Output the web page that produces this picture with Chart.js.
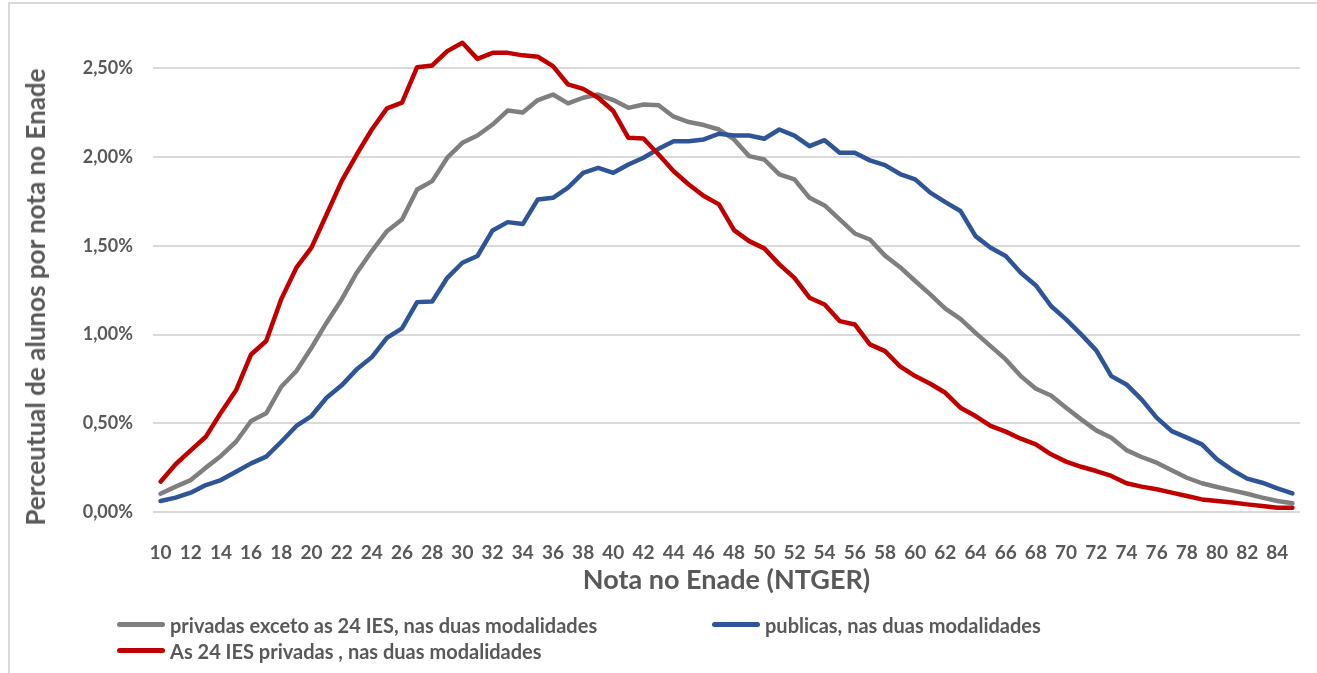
<!DOCTYPE html>
<html>
<head>
  <meta charset="utf-8" />
  <title>Nota no Enade</title>
  <script src="https://cdn.jsdelivr.net/npm/chart.js"></script>
  <style>
    body { margin: 0; background: #fff; font-family: Lato, sans-serif; }
    #wrap { position: relative; width: 1317px; height: 673px; overflow: hidden; }
    #frame { position: absolute; left: 8px; top: 2px; width: 1400px; height: 800px; border: 2px solid #d9d9d9; }
    #chart { position: absolute; left: 0; top: 0; }
    #ytitle { position: absolute; left: 35px; top: 297px; transform: translate(-50%, -50%) rotate(-90deg);
      white-space: nowrap; font-weight: bold; font-size: 26px; color: #595959; }
    #legend { position: absolute; left: 117px; top: 614px; display: grid; grid-template-columns: 595px 400px; row-gap: 5px; }
    .item { display: flex; align-items: center; font-weight: bold; font-size: 20px; color: #595959; height: 21px; white-space: nowrap; }
    .swatch { display: inline-block; width: 48px; height: 5px; border-radius: 3px; margin-right: 5px; }
  </style>
</head>

<body>
  <div id="wrap">
    <div id="frame"></div>
    <canvas id="chart" width="1317" height="673"></canvas>
    <div id="ytitle">Perceutual de alunos por nota no Enade</div>
    <div id="legend"></div>
  </div>
</body>

<script>
  // notas 10..85
  const notas = [];
  for (let n = 10; n <= 85; n++) notas.push(String(n));

  const privadasExceto = [
    0.103, 0.143, 0.180, 0.250, 0.316, 0.396, 0.513, 0.556, 0.706, 0.795,
    0.926, 1.067, 1.198, 1.349, 1.471, 1.583, 1.649, 1.818, 1.865, 1.997,
    2.081, 2.122, 2.184, 2.263, 2.252, 2.322, 2.353, 2.303, 2.335, 2.353,
    2.322, 2.278, 2.297, 2.293, 2.228, 2.198, 2.181, 2.156, 2.100, 2.006,
    1.987, 1.903, 1.875, 1.771, 1.728, 1.649, 1.570, 1.536, 1.445, 1.380,
    1.302, 1.227, 1.146, 1.089, 1.010, 0.935, 0.860, 0.766, 0.695, 0.657,
    0.588, 0.522, 0.460, 0.419, 0.349, 0.310, 0.278, 0.235, 0.193, 0.162,
    0.141, 0.122, 0.103, 0.081, 0.062, 0.049
  ];

  const publicas = [
    0.062, 0.081, 0.109, 0.152, 0.180, 0.227, 0.274, 0.312, 0.396, 0.485,
    0.541, 0.644, 0.714, 0.804, 0.873, 0.982, 1.035, 1.183, 1.187, 1.320,
    1.405, 1.443, 1.587, 1.634, 1.623, 1.762, 1.771, 1.828, 1.912, 1.940,
    1.912, 1.959, 1.997, 2.047, 2.090, 2.090, 2.100, 2.132, 2.122, 2.122,
    2.104, 2.156, 2.122, 2.062, 2.096, 2.025, 2.025, 1.982, 1.955, 1.905,
    1.875, 1.800, 1.747, 1.697, 1.555, 1.490, 1.443, 1.349, 1.277, 1.161,
    1.086, 1.001, 0.911, 0.766, 0.719, 0.635, 0.532, 0.456, 0.419, 0.381,
    0.297, 0.237, 0.188, 0.165, 0.133, 0.105
  ];

  const ies24 = [
    0.171, 0.269, 0.347, 0.424, 0.560, 0.686, 0.888, 0.964, 1.200, 1.377,
    1.490, 1.677, 1.865, 2.015, 2.156, 2.275, 2.307, 2.507, 2.517, 2.598,
    2.645, 2.554, 2.588, 2.588, 2.574, 2.566, 2.513, 2.410, 2.385, 2.335,
    2.260, 2.109, 2.105, 2.015, 1.921, 1.846, 1.781, 1.734, 1.589, 1.527,
    1.486, 1.396, 1.320, 1.208, 1.170, 1.076, 1.057, 0.945, 0.907, 0.821,
    0.766, 0.723, 0.672, 0.588, 0.541, 0.485, 0.453, 0.413, 0.381, 0.325,
    0.284, 0.255, 0.231, 0.203, 0.162, 0.143, 0.128, 0.109, 0.090, 0.071,
    0.062, 0.053, 0.043, 0.034, 0.024, 0.024
  ];

  const series = [
    { label: "privadas exceto as 24 IES, nas duas modalidades", data: privadasExceto, color: "#7f7f7f", order: 2 },
    { label: "publicas, nas duas modalidades", data: publicas, color: "#2f5597", order: 1 },
    { label: "As 24 IES privadas , nas duas modalidades", data: ies24, color: "#c00000", order: 0 },
  ];

  const textColor = "#595959";

  // legenda em html, duas colunas como no Excel
  const legend = document.getElementById("legend");
  series.forEach((s) => {
    const item = document.createElement("div");
    item.className = "item";
    item.innerHTML = '<span class="swatch" style="background:' + s.color + '"></span>' + s.label;
    legend.appendChild(item);
  });

  new Chart(document.getElementById("chart"), {
    type: "line",
    data: {
      labels: notas,
      datasets: series.map((s) => ({
        label: s.label,
        data: s.data,
        borderColor: s.color,
        backgroundColor: s.color,
        borderWidth: 4.5,
        pointRadius: 0,
        tension: 0,
        borderJoinStyle: "round",
        borderCapStyle: "round",
        order: s.order,
      })),
    },
    options: {
      responsive: false,
      animation: false,
      layout: { padding: { left: 0, right: 17, top: 33, bottom: 76 } },
      plugins: { legend: { display: false }, tooltip: { enabled: false } },
      scales: {
        x: {
          offset: true,
          grid: { display: false },
          border: { display: false },
          ticks: {
            autoSkip: false,
            maxRotation: 0,
            padding: 21,
            color: textColor,
            font: { family: "Lato", size: 19, weight: "bold" },
            callback: (v, i) => (i % 2 === 0 ? notas[i] : ""),
          },
          title: {
            display: true,
            text: "Nota no Enade (NTGER)",
            color: textColor,
            font: { family: "Lato", size: 27, weight: "bold" },
            padding: { top: 0, bottom: 1 },
          },
          afterFit: (scale) => { scale.height = 85; },
        },
        y: {
          min: 0,
          max: 2.7,
          grid: { color: "#d9d9d9", lineWidth: 2, drawTicks: false },
          border: { display: false },
          afterBuildTicks: (scale) => {
            scale.ticks = scale.ticks.filter((t) => Math.abs(t.value * 2 - Math.round(t.value * 2)) < 1e-6);
          },
          ticks: {
            stepSize: 0.5,
            padding: 20,
            color: textColor,
            font: { family: "Lato", size: 18, weight: "bold" },
            callback: (v) => v.toFixed(2).replace(".", ",") + "%",
          },
          afterFit: (scale) => { scale.width = 153; },
        },
      },
    },
  });
</script>
</html>
